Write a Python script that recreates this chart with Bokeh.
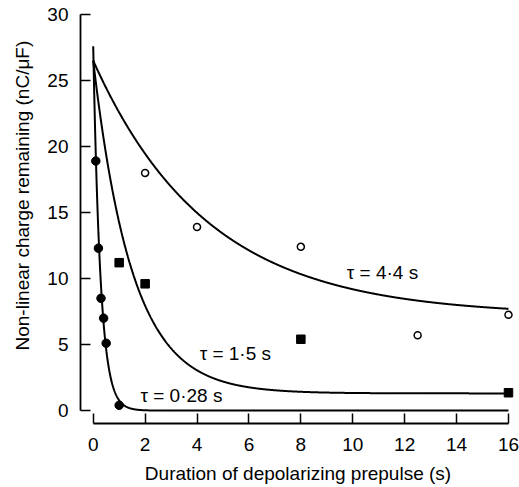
import numpy as np
from bokeh.plotting import figure
from bokeh.models import ColumnDataSource, FixedTicker, Title
from bokeh.core.properties import value
from bokeh.embed import file_html
from bokeh.resources import INLINE

# ---- data ----
fast_t = [0.1, 0.2, 0.3, 0.4, 0.5, 1.0]
fast_q = [18.9, 12.3, 8.5, 7.0, 5.1, 0.4]

mid_t = [1.0, 2.0, 8.0, 16.0]
mid_q = [11.2, 9.6, 5.4, 1.35]

slow_t = [2.0, 4.0, 8.0, 12.5, 16.0]
slow_q = [18.0, 13.9, 12.4, 5.7, 7.25]

# fitted single-exponential curves: q = amp * exp(-t / tau) + base
fit_tau = [0.28, 1.5, 4.4]
fit_amp = [27.6, 25.2, 19.3]
fit_base = [0.0, 1.3, 7.2]
fit_labels = ["τ = 0·28 s", "τ = 1·5 s", "τ = 4·4 s"]

x_ticks = [0, 2, 4, 6, 8, 10, 12, 14, 16]
y_ticks = [0, 5, 10, 15, 20, 25, 30]

x_title = "Duration of depolarizing prepulse (s)"
y_title = "Non-linear charge remaining (nC/μF)"

# label anchor positions (data units)
label_x = [1.82, 4.1, 9.77]
label_y = [1.13, 4.29, 10.47]

FONT = "Liberation Sans"

p = figure(width=519, height=487, output_backend="svg", toolbar_location=None,
           x_range=(-0.49, 16.27), y_range=(-0.98, 30.3))
p.min_border = 0
p.min_border_left = 80
p.min_border_right = 4
p.min_border_top = 10
p.min_border_bottom = 64
p.outline_line_color = None
p.grid.visible = False
p.background_fill_color = "white"
p.border_fill_color = "white"

# curves
t_curve = np.linspace(0.0, 16.0, 1601)
for tau, amp, base in zip(fit_tau, fit_amp, fit_base):
    q_curve = amp * np.exp(-t_curve / tau) + base
    p.line(t_curve, q_curve, line_color="black", line_width=2)

# points
p.scatter(fast_t, fast_q, marker="circle", size=8.5, fill_color="black", line_color="black")
p.scatter(mid_t, mid_q, marker="square", size=8.5, fill_color="black", line_color="black")
p.scatter(slow_t, slow_q, marker="circle", size=7, fill_color="white", line_color="black",
          line_width=1.5)

# curve labels
lab_src = ColumnDataSource(dict(x=label_x, y=label_y, text=fit_labels))
p.text(x="x", y="y", text="text", source=lab_src, text_font=value(FONT),
       text_font_size="19px", text_align="left", text_baseline="middle",
       text_color="black")

# axes
for ax in (p.xaxis[0], p.yaxis[0]):
    ax.axis_line_color = "black"
    ax.axis_line_width = 1.8
    ax.major_tick_line_color = "black"
    ax.major_tick_line_width = 1.5
    ax.major_tick_in = 10
    ax.major_tick_out = 0
    ax.minor_tick_line_color = None
    ax.major_label_text_font = FONT
    ax.major_label_text_font_size = "19px"
    ax.major_label_text_color = "black"

p.xaxis[0].ticker = FixedTicker(ticks=x_ticks)
p.yaxis[0].ticker = FixedTicker(ticks=y_ticks)
p.xaxis[0].bounds = (0, 16)
p.yaxis[0].bounds = (0, 30)
p.xaxis[0].major_label_standoff = 14
p.yaxis[0].major_label_standoff = 12

p.xaxis[0].axis_label = x_title
p.xaxis[0].axis_label_standoff = 9
p.xaxis[0].axis_label_text_font = FONT
p.xaxis[0].axis_label_text_font_size = "19px"
p.xaxis[0].axis_label_text_font_style = "normal"
p.xaxis[0].axis_label_text_color = "black"

ytitle = Title(text=y_title, align="left", offset=73, vertical_align="top",
               standoff=20, text_font=FONT, text_font_size="19px",
               text_font_style="normal", text_color="black")
p.add_layout(ytitle, "left")

open("out.html", "w").write(file_html(p, INLINE))
